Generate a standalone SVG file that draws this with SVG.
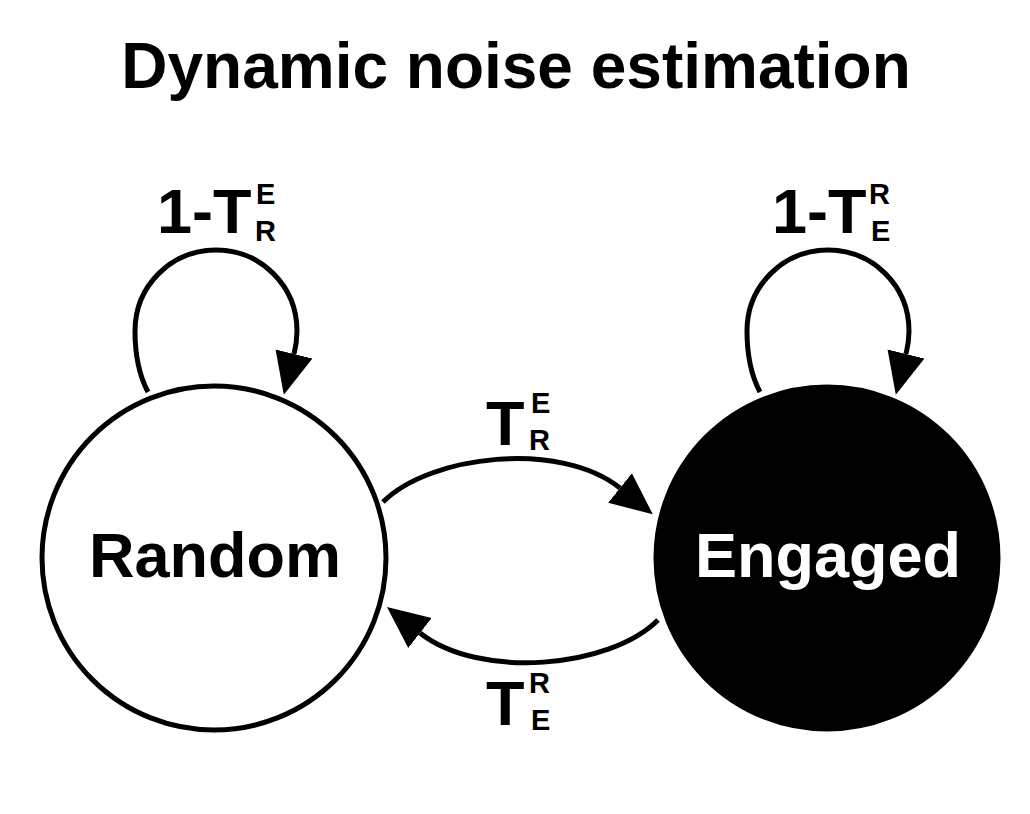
<svg xmlns="http://www.w3.org/2000/svg" width="1030" height="814" viewBox="0 0 1030 814">
<defs>
<style>
text{font-family:"Liberation Sans",Arial,sans-serif;font-weight:bold;fill:#000}
.big{font-size:63px}
.title{font-size:64px}
.sm{font-size:29px}
.conn{fill:none;stroke:#000;stroke-width:5}
</style>
<marker id="ah" markerUnits="userSpaceOnUse" markerWidth="44" markerHeight="40" viewBox="0 -20 44 40" refX="0" refY="0" orient="auto">
<path d="M0,-19 L42,0 L0,19 Z" fill="#000"/>
</marker>
</defs>
<rect width="1030" height="814" fill="#fff"/>
<text class="title" x="516" y="88" text-anchor="middle">Dynamic noise estimation</text>
<g id="random">
<circle cx="214" cy="558" r="172" fill="#fff" stroke="#000" stroke-width="5"/>
<text class="big" x="215" y="577" text-anchor="middle">Random</text>
</g>
<g id="engaged">
<circle cx="827" cy="558" r="171" fill="#000" stroke="#000" stroke-width="5"/>
<text class="big" x="828" y="577" text-anchor="middle" style="fill:#fff">Engaged</text>
</g>
<g id="connectors">
<path class="conn" d="M148,392 C140,377 135,355 135,331 C135,286 171,250 216,250 C261,250 297,286 297,331 C297,340 296,346 294,354" marker-end="url(#ah)"/>
<path class="conn" d="M760,392 C752,377 747,355 747,331 C747,286 783,250 828,250 C873,250 909,286 909,331 C909,340 908,346 906,354" marker-end="url(#ah)"/>
<path class="conn" d="M383,502 C430,455 560,440 620,488" marker-end="url(#ah)"/>
<path class="conn" d="M658,620 C610,668 480,680 420,633" marker-end="url(#ah)"/>
</g>
<g id="labels">
<text class="big" x="157" y="233">1-T</text>
<text class="sm" x="256" y="204">E</text>
<text class="sm" x="255" y="241">R</text>
<text class="big" x="772" y="233">1-T</text>
<text class="sm" x="869" y="204">R</text>
<text class="sm" x="871" y="241">E</text>
<text class="big" x="486" y="445">T</text>
<text class="sm" x="531" y="413">E</text>
<text class="sm" x="529" y="450">R</text>
<text class="big" x="486" y="725">T</text>
<text class="sm" x="529" y="693">R</text>
<text class="sm" x="531" y="730">E</text>
</g>
</svg>
